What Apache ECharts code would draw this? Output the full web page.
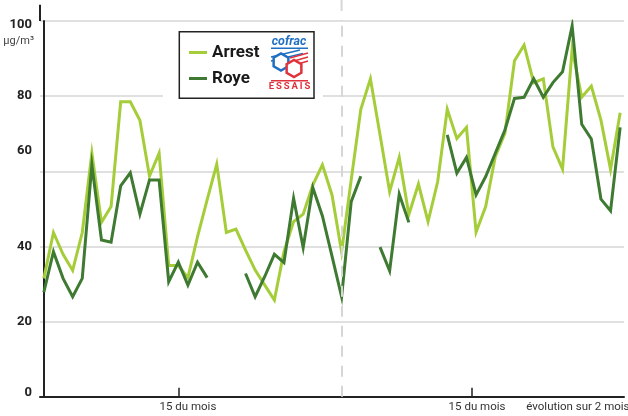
<!DOCTYPE html>
<html><head><meta charset="utf-8">
<script src="https://cdn.jsdelivr.net/npm/echarts@6/dist/echarts.min.js"></script>
<style>html,body{margin:0;padding:0;background:#fff}#c{width:628px;height:416px}</style>
</head><body><div id="c"></div>
<script>
const FONT = 'Roboto,"Liberation Sans Narrow","DejaVu Sans Condensed",sans-serif';

// daily values over two months (index 0 = day 1 of month 1)
const arrest = [31.5,43.7,37.9,33.6,43.7,64.8,46.4,50.6,78.5,78.5,
  73.6,58.7,64.8,34.9,34.9,31.7,42.6,52.4,61.9,43.7,
  44.6,39.0,33.7,29.7,25.7,38.6,46.6,48.6,56.3,61.7,
  53.7,38.6,57.7,76.5,84.6,69.7,54.6,63.7,48.5,56.6,
  46.6,57.2,76.5,68.7,71.7,43.8,50.6,63.9,70.1,89.4,
  93.6,83.6,84.6,66.5,60.6,92.5,79.7,82.7,73.6,60.5,75.6];
const roye = [27.8,38.6,31.5,26.6,31.5,61.7,41.7,41.1,56.1,59.6,
  48.6,57.7,57.7,30.6,35.8,29.7,35.8,31.7,null,null,
  null,32.8,26.6,32.0,37.9,35.7,52.8,39.7,55.7,48.1,
  37.4,26.6,51.9,58.7,null,39.8,33.5,53.9,46.4,null,
  null,null,69.7,59.5,63.7,53.7,58.6,64.8,71.0,79.4,
  79.7,84.6,79.7,83.6,86.5,98.7,72.5,68.6,52.6,49.5,71.7];
const seriesNames = ['Arrest','Roye'];
const yTicks = [0,20,40,60,80,100];
const unitLabel = 'µg/m³';
const xTickPos = [14, 44.5];
const xLabelPos = [15, 45.1, 55.6];
const xLabels = ['15 du mois','15 du mois','évolution sur 2 mois'];
const monthBreak = 31;

const toPairs = arr => arr.map((v,i)=>[i, v==null ? '-' : v]);

const chart = echarts.init(document.getElementById('c'), null, {renderer:'canvas'});
const lab = {fontFamily:FONT, fontWeight:'bold', fontSize:13, color:'#222'};
chart.setOption({
  animation:false,
  backgroundColor:'#fff',
  grid:{left:40, right:4, top:21, bottom:19.3, containLabel:false, outerBoundsMode:'none'},
  xAxis:{type:'value', min:-0.4, max:60.4,
    splitLine:{show:false},
    axisLine:{lineStyle:{color:'#222', width:2}},
    axisTick:{show:true, inside:true, length:9, customValues:xTickPos, lineStyle:{color:'#222', width:1.5}},
    axisLabel:{customValues:xLabelPos, margin:4, fontFamily:FONT, fontSize:11.5, color:'#333',
      formatter:v=>{const k=xLabelPos.indexOf(v); return k>=0?xLabels[k]:'';}}
  },
  yAxis:{type:'value', min:yTicks[0], max:yTicks[yTicks.length-1], interval:20,
    axisLine:{show:true, lineStyle:{color:'#222', width:2}},
    axisTick:{show:false},
    splitLine:{lineStyle:{color:'#d6d6d6', width:1.5}},
    axisLabel:{margin:8,
      formatter:v=> v===60?'{up|60}': v===100?'{dn|100}': v===0?'{z|0}':'{n|'+v+'}',
      rich:{n:lab, up:Object.assign({padding:[0,0,42,0]},lab), dn:Object.assign({padding:[8,0,0,0]},lab), z:Object.assign({padding:[0,0,8,0]},lab)}
    }
  },
  legend:{orient:'vertical', left:184, top:39, padding:[5,5,5,5], itemGap:9,
    itemWidth:18, itemHeight:3, icon:'rect', backgroundColor:'transparent', borderWidth:0,
    textStyle:{fontFamily:FONT, fontWeight:'bold', fontSize:17, color:'#1a1a1a'},
    data:seriesNames, z:10},
  series:[
    {name:seriesNames[0], type:'line', data:toPairs(arrest), symbol:'none', connectNulls:false,
     color:'#a5cd39', lineStyle:{width:3, color:'#a5cd39', join:'miter'}, z:2,
     markLine:{silent:true, symbol:'none', label:{show:false},
       lineStyle:{color:'#d6d6d6', type:[11,9], width:2}, data:[{xAxis:monthBreak}]}},
    {name:seriesNames[1], type:'line', data:toPairs(roye), symbol:'none', connectNulls:false,
     color:'#3e7a31', lineStyle:{width:3, color:'#3e7a31', join:'miter'}, z:3}
  ]
});

const px = chart.convertToPixel({xAxisIndex:0}, monthBreak);
const axX = chart.convertToPixel({xAxisIndex:0}, -0.4);
const topY = chart.convertToPixel({yAxisIndex:0}, 100);
const hex = (cx,cy,r)=>{const p=[];for(let k=0;k<6;k++){const a=Math.PI/6+k*Math.PI/3;p.push([cx+r*Math.cos(a),cy+r*Math.sin(a)]);}return p;};
const LZ = 8;
const B = '#1f6fc4', R = '#e0323c';
const logo = [
  {type:'text', style:{x:19,y:6,text:'cofrac', align:'center', verticalAlign:'middle', fontFamily:FONT, fontWeight:'bold', fontStyle:'italic', fontSize:12.5, fill:B}},
  {type:'rect', shape:{x:1,y:11.5,width:37,height:1.5}, style:{fill:B}},
  {type:'line', shape:{x1:1,y1:21,x2:30,y2:14}, style:{stroke:B, lineWidth:1.5}},
  {type:'line', shape:{x1:1,y1:25,x2:33,y2:17.5}, style:{stroke:B, lineWidth:1.5}},
  {type:'line', shape:{x1:20,y1:22,x2:38,y2:17}, style:{stroke:R, lineWidth:1.5}},
  {type:'line', shape:{x1:24,y1:25,x2:38,y2:21}, style:{stroke:R, lineWidth:1.5}},
  {type:'line', shape:{x1:28,y1:28,x2:38,y2:25}, style:{stroke:R, lineWidth:1.5}},
  {type:'polygon', shape:{points:hex(11,26,8.5)}, style:{fill:'#fff', stroke:B, lineWidth:2.5}},
  {type:'polygon', shape:{points:hex(24,32.5,8.5)}, style:{fill:'#fff', stroke:R, lineWidth:2.5}},
  {type:'rect', shape:{x:1,y:44,width:37,height:1.5}, style:{fill:R}},
  {type:'text', style:{x:19.5,y:51,text:'E\u2009S\u2009S\u2009A\u2009I\u2009S', align:'center', verticalAlign:'middle', fontFamily:FONT, fontWeight:'bold', fontSize:9.5, fill:R}}
].map((c,k)=>Object.assign(c,{z:LZ+1+k*0.01, silent:true}));
chart.setOption({graphic:[
  {type:'line', shape:{x1:px,y1:0,x2:px,y2:topY}, style:{stroke:'#d6d6d6', lineWidth:2, lineDash:[11,9]}, z:1, silent:true},
  {type:'line', shape:{x1:axX,y1:4.7,x2:axX,y2:topY}, style:{stroke:'#222', lineWidth:2}, z:1, silent:true},
  {type:'rect', shape:{x:163,y:95,width:160,height:8}, style:{fill:'#fff'}, z:1, silent:true},
  {type:'rect', shape:{x:179.3,y:31.7,width:134.7,height:66.6}, style:{fill:'#fff', stroke:'#222', lineWidth:1.5}, z:LZ, silent:true},
  {type:'text', x:34, y:36, style:{text:unitLabel, align:'right', fontFamily:FONT, fontSize:11, fill:'#444'}, z:5, silent:true},
  {type:'group', x:270, y:36, z:LZ+1, children:logo}
]});
</script></body></html>
